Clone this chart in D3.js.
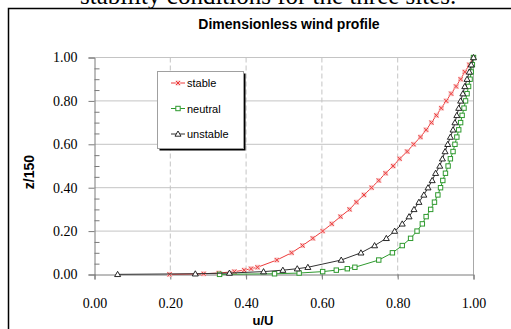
<!DOCTYPE html>
<html>
<head>
<meta charset="utf-8">
<script src="https://cdn.jsdelivr.net/npm/d3@7"></script>
<style>
  body { margin: 0; background: #fff; }
  svg { display: block; }
</style>
</head>
<body>
<div id="chart"></div>
<script>
// heights (m) of the profile points, normalised by 150 m
const heights = [0.1, 0.5, 1, 2, 3, 4, 5, 10, 15, 20, 25, 30, 35, 40, 45, 50, 55, 60, 65, 70,
  75, 80, 85, 90, 95, 100, 105, 110, 115, 120, 125, 130, 135, 140, 145, 150];

const stableU = [0.198, 0.288, 0.328, 0.369, 0.395, 0.413, 0.430, 0.481, 0.520, 0.549, 0.576, 0.602,
  0.626, 0.649, 0.673, 0.691, 0.711, 0.731, 0.750, 0.768, 0.788, 0.805, 0.825, 0.842, 0.860, 0.875,
  0.889, 0.902, 0.915, 0.928, 0.941, 0.954, 0.966, 0.977, 0.989, 1.000];

const neutralU = [0.330, 0.475, 0.540, 0.602, 0.638, 0.667, 0.687, 0.750, 0.786, 0.812, 0.834, 0.851,
  0.865, 0.875, 0.887, 0.897, 0.906, 0.913, 0.919, 0.926, 0.933, 0.939, 0.946, 0.951, 0.956, 0.961,
  0.966, 0.970, 0.975, 0.979, 0.983, 0.987, 0.991, 0.994, 0.997, 1.000];

const unstableU = [0.061, 0.266, 0.356, 0.446, 0.497, 0.535, 0.563, 0.651, 0.703, 0.739, 0.770, 0.792,
  0.812, 0.830, 0.843, 0.856, 0.869, 0.880, 0.891, 0.900, 0.911, 0.918, 0.925, 0.932, 0.939, 0.946,
  0.951, 0.956, 0.961, 0.966, 0.972, 0.977, 0.983, 0.989, 0.994, 1.000];

const xTicks = [0, 0.2, 0.4, 0.6, 0.8, 1.0];
const yTicks = [0, 0.2, 0.4, 0.6, 0.8, 1.0];
const yMinorTicks = [0.05, 0.1, 0.15, 0.25, 0.3, 0.35, 0.45, 0.5, 0.55, 0.65, 0.7, 0.75, 0.85, 0.9, 0.95];

const seriesNames = ["stable", "neutral", "unstable"];
const seriesColors = ["#ee3a3a", "#2f9a2f", "#333333"];

const width = 511;
const height = 329;
const serif = "'Liberation Serif', 'Times New Roman', serif";
const sans = "'Liberation Sans', Arial, sans-serif";

const svg = d3.select("#chart").append("svg")
  .attr("width", width)
  .attr("height", height);

// text from the page above, cut off by the crop
svg.append("text")
  .attr("x", 80)
  .attr("y", 4)
  .style("font-family", serif)
  .style("font-size", "25px")
  .text("stability conditions for the three sites.");

// outer frame
svg.append("rect")
  .attr("x", 8.5).attr("y", 8.5)
  .attr("width", 520).attr("height", 340)
  .attr("fill", "none")
  .attr("stroke", "#000")
  .attr("stroke-width", 1.5);

const x = d3.scaleLinear().domain([0, 1]).range([94.5, 473.5]);
const y = d3.scaleLinear().domain([0, 1]).range([274.5, 57.5]);

// grid
svg.append("g")
  .selectAll("line")
  .data(yTicks.filter((d) => d > 0))
  .join("line")
  .attr("x1", x(0)).attr("x2", x(1))
  .attr("y1", (d) => y(d)).attr("y2", (d) => y(d))
  .attr("stroke", "#c4c4c4")
  .attr("stroke-width", 1);

svg.append("g")
  .selectAll("line")
  .data(xTicks.filter((d) => d > 0 && d < 1))
  .join("line")
  .attr("x1", (d) => x(d)).attr("x2", (d) => x(d))
  .attr("y1", y(1)).attr("y2", y(0) + 3)
  .attr("stroke", "#c4c4c4")
  .attr("stroke-dasharray", "5,3")
  .attr("stroke-width", 1);

// right border of plot area
svg.append("line")
  .attr("x1", x(1)).attr("x2", x(1))
  .attr("y1", y(1)).attr("y2", y(0))
  .attr("stroke", "#a8a8a8");

// axes
const yAxis = svg.append("g")
  .attr("transform", `translate(${x(0)},0)`)
  .call(d3.axisLeft(y).tickValues(yTicks).tickFormat(d3.format(".2f")).tickSize(6).tickPadding(11));

svg.append("g")
  .attr("transform", `translate(${x(0)},0)`)
  .call(d3.axisRight(y).tickValues(yMinorTicks).tickFormat("").tickSize(5))
  .call((g) => g.select(".domain").remove());

const xAxis = svg.append("g")
  .attr("transform", `translate(0,${y(0)})`)
  .call(d3.axisBottom(x).tickValues(xTicks).tickFormat(d3.format(".2f")).tickSize(5).tickPadding(19));

svg.selectAll(".tick line, .domain").attr("stroke", "#7a7a7a");
[yAxis, xAxis].forEach((g) => {
  g.selectAll("text")
    .style("font-family", serif)
    .style("font-size", "14px")
    .attr("fill", "#000");
});

// axis titles
svg.append("text")
  .attr("x", 263).attr("y", 325)
  .attr("text-anchor", "middle")
  .style("font-family", sans)
  .style("font-size", "13px")
  .style("font-weight", "bold")
  .text("u/U");

svg.append("text")
  .attr("transform", "translate(34,172) rotate(-90)")
  .attr("text-anchor", "middle")
  .style("font-family", sans)
  .style("font-size", "14px")
  .style("font-weight", "bold")
  .text("z/150");

svg.append("text")
  .attr("x", 289).attr("y", 29)
  .attr("text-anchor", "middle")
  .style("font-family", sans)
  .style("font-size", "14px")
  .style("font-weight", "bold")
  .text("Dimensionless wind profile");

// markers
const drawMarker = (g, i, color) => {
  if (i === 0) {
    g.append("rect")
      .attr("x", -2.5).attr("y", -2.5).attr("width", 5).attr("height", 5)
      .attr("fill", "#f7c4c4");
    g.append("path")
      .attr("d", "M-2,-2L2,2M-2,2L2,-2")
      .attr("stroke", color).attr("stroke-width", 1);
  } else if (i === 1) {
    g.append("rect")
      .attr("x", -2.2).attr("y", -2.2).attr("width", 4.4).attr("height", 4.4)
      .attr("fill", "#fff").attr("stroke", color).attr("stroke-width", 1);
  } else {
    g.append("path")
      .attr("d", "M0,-3L3,2.2L-3,2.2Z")
      .attr("fill", "#fff").attr("stroke", "#111").attr("stroke-width", 0.9);
  }
};

const allSeries = [stableU, neutralU, unstableU];
const line = d3.line()
  .x((d) => x(d[0]))
  .y((d) => y(d[1]));

allSeries.forEach((values, i) => {
  const pts = values.map((u, k) => [u, heights[k] / 150]);
  const g = svg.append("g");
  g.append("path")
    .datum(pts)
    .attr("d", line)
    .attr("fill", "none")
    .attr("stroke", seriesColors[i])
    .attr("stroke-width", 1);
  g.selectAll("g")
    .data(pts)
    .join("g")
    .attr("transform", (d) => `translate(${x(d[0])},${y(d[1])})`)
    .each(function () {
      drawMarker(d3.select(this), i, seriesColors[i]);
    });
});

// legend
const legend = svg.append("g");
legend.append("rect")
  .attr("x", 159.5).attr("y", 73.5).attr("width", 86).attr("height", 77)
  .attr("fill", "#000");
legend.append("rect")
  .attr("x", 157.5).attr("y", 71.5).attr("width", 86).attr("height", 77)
  .attr("fill", "#fff")
  .attr("stroke", "#a0a0a0");

seriesNames.forEach((name, i) => {
  const cy = 83 + i * 25.5;
  legend.append("line")
    .attr("x1", 171).attr("x2", 185)
    .attr("y1", cy).attr("y2", cy)
    .attr("stroke", seriesColors[i]);
  const m = legend.append("g").attr("transform", `translate(178,${cy})`);
  drawMarker(m, i, seriesColors[i]);
  legend.append("text")
    .attr("x", 187).attr("y", cy + 4)
    .style("font-family", sans)
    .style("font-size", "11px")
    .text(name);
});
</script>
</body>
</html>
